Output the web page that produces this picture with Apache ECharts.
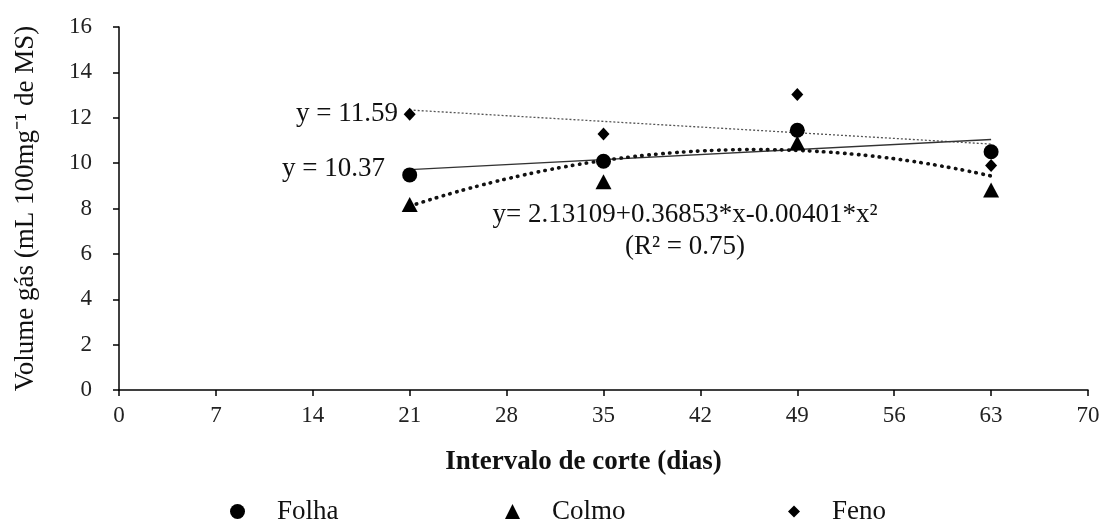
<!DOCTYPE html>
<html>
<head>
<meta charset="utf-8">
<script src="https://cdn.jsdelivr.net/npm/echarts@6/dist/echarts.min.js"></script>
<style>
  html, body { margin: 0; padding: 0; background: #fff; }
  #chart { width: 1109px; height: 521px; }
</style>
</head>
<body>
<div id="chart"></div>
<script>
// Cutting interval (days) and gas volume per plant fraction
var days = [21, 35, 49, 63];
var folha = [9.48, 10.08, 11.45, 10.50];
var colmo = [8.18, 9.18, 10.89, 8.81];
var feno = [12.15, 11.28, 13.03, 9.90];

// Quadratic model for Colmo: y = c0 + c1*x + c2*x^2
var colmoCoef = [2.13109, 0.36853, -0.00401];

var xTicks = [0, 7, 14, 21, 28, 35, 42, 49, 56, 63, 70];
var yTicks = [0, 2, 4, 6, 8, 10, 12, 14, 16];

var FONT = '"Liberation Serif", "Times New Roman", serif';

function pairs(xs, ys) {
  return xs.map(function (x, i) { return [x, ys[i]]; });
}

// Least-squares straight line through the observed points
function linearTrend(xs, ys) {
  var n = xs.length, mx = 0, my = 0;
  for (var i = 0; i < n; i++) { mx += xs[i]; my += ys[i]; }
  mx /= n; my /= n;
  var sxy = 0, sxx = 0;
  for (var j = 0; j < n; j++) {
    sxy += (xs[j] - mx) * (ys[j] - my);
    sxx += (xs[j] - mx) * (xs[j] - mx);
  }
  var b = sxy / sxx, a = my - b * mx;
  var x0 = xs[0], x1 = xs[n - 1];
  return [[x0, a + b * x0], [x1, a + b * x1]];
}

// Model curve sampled along the observed interval
function quadCurve(coef, from, to) {
  var pts = [];
  for (var x = from; x <= to; x += 1) {
    pts.push([x, coef[0] + coef[1] * x + coef[2] * x * x]);
  }
  return pts;
}

var chart = echarts.init(document.getElementById('chart'), null, { renderer: 'canvas' });

var legendText = { fontFamily: FONT, fontSize: 27, color: '#111', padding: [0, 0, 0, 27] };

function legendFor(name, left, icon, size) {
  return {
    data: [{ name: name, icon: icon }],
    left: left, top: 493,
    itemWidth: size, itemHeight: size,
    textStyle: legendText,
    selectedMode: false
  };
}

chart.setOption({
  animation: false,
  backgroundColor: '#fff',
  grid: { left: 119, right: 21, top: 27, bottom: 131, containLabel: false, outerBoundsMode: 'none' },
  legend: [
    legendFor('Folha', 225, 'circle', 15),
    legendFor('Colmo', 500, 'triangle', 15),
    legendFor('Feno', 783, 'diamond', 12)
  ],
  xAxis: {
    type: 'value', min: 0, max: 70, interval: 7,
    name: 'Intervalo de corte (dias)',
    nameLocation: 'middle', nameGap: 59,
    nameTextStyle: {
      fontFamily: FONT, fontSize: 27, fontWeight: 'bold', color: '#111',
      padding: [0, 40, 0, 0]
    },
    axisLine: { show: true, lineStyle: { color: '#000', width: 1.5 } },
    axisTick: { show: true, inside: false, length: 6, lineStyle: { color: '#000', width: 1.5 } },
    axisLabel: {
      fontFamily: FONT, fontSize: 23, color: '#222', margin: 14,
      customValues: xTicks
    },
    splitLine: { show: false }
  },
  yAxis: {
    type: 'value', min: 0, max: 16, interval: 2,
    name: 'Volume gás (mL 100mg\u207B\u00B9 de MS)',
    nameLocation: 'middle', nameGap: 80, nameRotate: 90,
    nameTextStyle: { fontFamily: FONT, fontSize: 27, color: '#111' },
    axisLine: { show: true, lineStyle: { color: '#000', width: 1.5 } },
    axisTick: { show: true, inside: false, length: 6, lineStyle: { color: '#000', width: 1.5 } },
    axisLabel: { fontFamily: FONT, fontSize: 23, color: '#222', margin: 27, customValues: yTicks },
    splitLine: { show: false }
  },
  series: [
    {
      name: 'Feno trend', type: 'line', data: linearTrend(days, feno),
      symbol: 'none', silent: true, z: 2,
      lineStyle: { color: '#555', width: 1.3, type: [2, 2] }
    },
    {
      name: 'Folha trend', type: 'line', data: linearTrend(days, folha),
      symbol: 'none', silent: true, z: 2,
      lineStyle: { color: '#333', width: 1.4, type: 'solid' }
    },
    {
      name: 'Colmo curve', type: 'line', data: quadCurve(colmoCoef, days[0], days[days.length - 1]),
      symbol: 'none', silent: true, smooth: true, z: 2,
      lineStyle: { color: '#111', width: 3.6, type: [0.5, 6.5], cap: 'round' }
    },
    {
      name: 'Folha', type: 'scatter', data: pairs(days, folha),
      symbol: 'circle', symbolSize: 15, z: 4,
      itemStyle: { color: '#000', opacity: 1 }
    },
    {
      name: 'Colmo', type: 'scatter', data: pairs(days, colmo),
      symbol: 'triangle', symbolSize: [16, 15], z: 4,
      itemStyle: { color: '#000', opacity: 1 }
    },
    {
      name: 'Feno', type: 'scatter', data: pairs(days, feno),
      symbol: 'diamond', symbolSize: [12, 13], z: 4,
      itemStyle: { color: '#000', opacity: 1 }
    }
  ],
  graphic: [
    {
      type: 'text', x: 398, y: 114,
      style: { text: 'y = 11.59', font: '27px ' + FONT, fill: '#111', align: 'right', verticalAlign: 'middle' }
    },
    {
      type: 'text', x: 385, y: 169,
      style: { text: 'y = 10.37', font: '27px ' + FONT, fill: '#111', align: 'right', verticalAlign: 'middle' }
    },
    {
      type: 'text', x: 685, y: 215,
      style: {
        text: 'y= 2.13109+0.36853*x-0.00401*x\u00B2',
        font: '27px ' + FONT, fill: '#111', align: 'center', verticalAlign: 'middle'
      }
    },
    {
      type: 'text', x: 685, y: 247,
      style: {
        text: '(R\u00B2 = 0.75)',
        font: '27px ' + FONT, fill: '#111', align: 'center', verticalAlign: 'middle'
      }
    }
  ]
});
</script>
</body>
</html>
